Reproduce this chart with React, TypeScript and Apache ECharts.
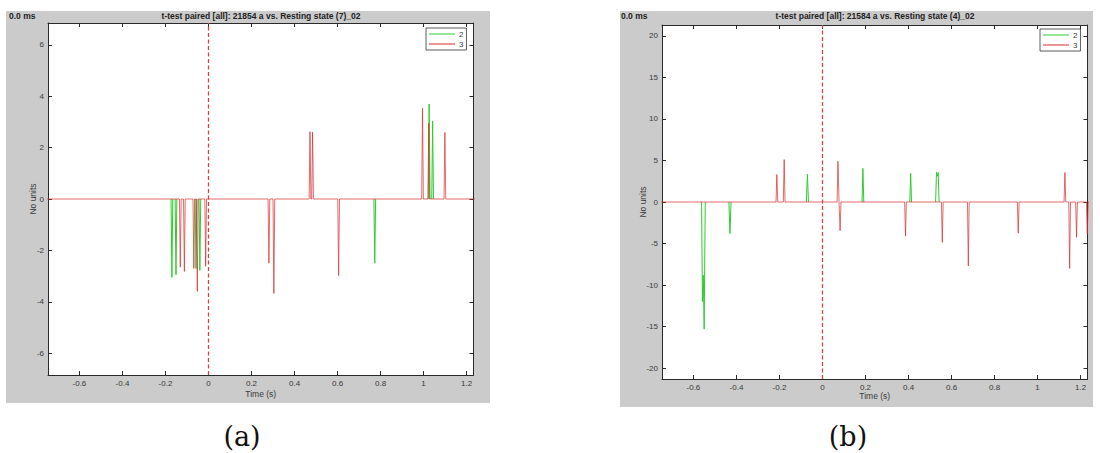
import React, { useEffect, useRef } from "react";
import * as echarts from "echarts";

// ---- axis ranges & ticks ----
const X_MIN = -0.746;
const X_MAX = 1.232;
const xTicks = [-0.6, -0.4, -0.2, 0, 0.2, 0.4, 0.6, 0.8, 1, 1.2];
const Y_LIM_A = 6.85;
const Y_LIM_B = 21.3;
const yTicksA = [-6, -4, -2, 0, 2, 4, 6];
const yTicksB = [-20, -15, -10, -5, 0, 5, 10, 15, 20];

// ---- texts ----
const titleA = "t-test paired [all]: 21854 a vs. Resting state (7)_02";
const titleB = "t-test paired [all]: 21584 a vs. Resting state (4)_02";
const latency = "0.0 ms";
const legendNames = ["2", "3"];

// ---- panel (a): series "2" (green) spikes, [time (s), value]; its zero baseline is hidden under series "3" ----
const greenA: [number, number][][] = [
  [[-0.174, 0], [-0.17, -3.05], [-0.166, 0]],
  [[-0.155, 0], [-0.151, -2.95], [-0.147, 0]],
  [[-0.062, 0], [-0.058, -2.7], [-0.054, 0]],
  [[-0.044, 0], [-0.04, -2.78], [-0.036, 0]],
  [[0.769, 0], [0.773, -2.5], [0.777, 0]],
  [[1.022, 0], [1.026, 3.7], [1.03, 0]],
  [[1.038, 0], [1.042, 3.04], [1.046, 0]],
];
// ---- panel (a): series "3" (red), full trace ----
const redA: [number, number][] = [
  [-0.75, 0], [-0.135, 0], [-0.131, -2.65], [-0.127, 0], [-0.116, 0], [-0.112, -2.82], [-0.108, 0],
  [-0.072, 0], [-0.068, -2.7], [-0.064, 0], [-0.056, 0], [-0.052, -3.6], [-0.048, 0],
  [-0.017, 0], [-0.013, -2.62], [-0.009, 0], [0.277, 0], [0.281, -2.5], [0.285, 0],
  [0.3, 0], [0.304, -3.68], [0.308, 0], [0.468, 0], [0.472, 2.62], [0.476, 0],
  [0.48, 0], [0.484, 2.6], [0.488, 0], [0.601, 0], [0.605, -2.98], [0.609, 0],
  [0.991, 0], [0.995, 3.53], [0.999, 0], [1.02, 0], [1.024, 2.95], [1.028, 0],
  [1.095, 0], [1.099, 2.59], [1.103, 0], [1.24, 0],
];

// ---- panel (b) ----
const greenB: [number, number][][] = [
  [[-0.562, 0], [-0.558, -12.0], [-0.554, -8.8], [-0.55, -15.3], [-0.545, 0]],
  [[-0.435, 0], [-0.43, -3.8], [-0.425, 0]],
  [[-0.075, 0], [-0.07, 3.35], [-0.065, 0]],
  [[0.184, 0], [0.188, 4.05], [0.192, 0]],
  [[0.406, 0], [0.41, 3.45], [0.414, 0]],
  [[0.526, 0], [0.53, 3.6], [0.534, 3.1], [0.538, 3.55], [0.542, 0]],
];
const redB: [number, number][] = [
  [-0.75, 0], [-0.216, 0], [-0.212, 3.3], [-0.208, 0], [-0.182, 0], [-0.178, 5.1], [-0.174, 0],
  [0.068, 0], [0.072, 4.9], [0.077, 0], [0.082, -3.45], [0.086, 0],
  [0.382, 0], [0.386, -4.1], [0.39, 0], [0.553, 0], [0.557, -4.85], [0.561, 0],
  [0.674, 0], [0.678, -7.7], [0.682, 0], [0.906, 0], [0.91, -3.75], [0.914, 0],
  [1.123, 0], [1.127, 3.55], [1.131, 0], [1.145, 0], [1.149, -8.0], [1.153, 0],
  [1.177, 0], [1.181, -4.25], [1.185, 0], [1.227, 0], [1.231, -3.85], [1.235, 0], [1.24, 0],
];

const GREEN = "#2fcb2f";
const RED = "#d92b2b";
const AXIS = "#2a2a2a";
const LABEL = "#3a3a3a";
const GRAY = "#cbcbcb";
const FONT = "'Liberation Sans', Arial, sans-serif";

const joinSegments = (segs: [number, number][][]) => {
  const out: any[] = [];
  segs.forEach((s, i) => {
    if (i > 0) out.push(null);
    s.forEach((p) => out.push(p));
  });
  return out;
};

function App() {
  const ref = useRef<HTMLDivElement>(null);
  useEffect(() => {
    if (!ref.current) return;
    const chart = echarts.init(ref.current, undefined, { renderer: "svg" });

    const axisLine = { show: true, onZero: false, lineStyle: { color: AXIS, width: 1 } };
    const mkX = (grid: number, pos: "bottom" | "top", withName: boolean, nameGap: number) => ({
      type: "value",
      gridIndex: grid,
      position: pos,
      min: X_MIN,
      max: X_MAX,
      name: withName ? "Time (s)" : "",
      nameLocation: "middle",
      nameGap,
      nameMoveOverlap: false,
      nameTextStyle: { fontSize: 8.5, color: LABEL, fontFamily: FONT },
      axisLine,
      axisTick: { show: true, inside: true, length: 4, customValues: xTicks, lineStyle: { color: AXIS } },
      axisLabel: {
        show: pos === "bottom",
        customValues: xTicks,
        fontSize: 8,
        color: LABEL,
        fontFamily: FONT,
        margin: 4,
      },
      splitLine: { show: false },
    });
    const mkY = (grid: number, pos: "left" | "right", lim: number, ticks: number[], nameGap: number) => ({
      type: "value",
      gridIndex: grid,
      position: pos,
      min: -lim,
      max: lim,
      name: pos === "left" ? "No units" : "",
      nameLocation: "middle",
      nameGap,
      nameMoveOverlap: false,
      nameTextStyle: { fontSize: 8.5, color: LABEL, fontFamily: FONT },
      axisLine,
      axisTick: { show: true, inside: true, length: 4, customValues: ticks, lineStyle: { color: AXIS } },
      axisLabel: {
        show: pos === "left",
        customValues: ticks,
        fontSize: 8,
        color: LABEL,
        fontFamily: FONT,
        margin: 4,
      },
      splitLine: { show: false },
    });

    const markLine = {
      silent: true,
      symbol: ["none", "none"],
      label: { show: false },
      lineStyle: { color: "#d24545", width: 1.3, type: [4, 2.5] },
      data: [{ xAxis: 0 }],
    };
    const line = (name: string, color: string, data: any[], xi: number, yi: number, withMark: boolean, width: number) => ({
      type: "line",
      name,
      data,
      xAxisIndex: xi,
      yAxisIndex: yi,
      showSymbol: false,
      symbol: "none",
      connectNulls: false,
      lineStyle: { color, width },
      itemStyle: { color },
      clip: true,
      markLine: withMark ? markLine : undefined,
    });

    const legendCommon = {
      data: legendNames,
      orient: "vertical",
      icon: "rect",
      itemWidth: 26,
      itemHeight: 1,
      itemGap: 2,
      padding: [2, 3, 2, 3],
      backgroundColor: "#fff",
      borderColor: "#333",
      borderWidth: 0.8,
      borderRadius: 0,
      selectedMode: false,
      textStyle: { fontSize: 8, color: LABEL, fontFamily: FONT, padding: [0, 0, 0, -1] },
    };

    chart.setOption({
      animation: false,
      backgroundColor: "#fff",
      color: [GREEN, RED],
      grid: [
        { left: 48, top: 23, width: 425.5, height: 352, containLabel: false },
        { left: 662, top: 25, width: 425.5, height: 354, containLabel: false },
      ],
      xAxis: [
        mkX(0, "bottom", true, 14),
        mkX(0, "top", false, 0),
        mkX(1, "bottom", true, 12),
        mkX(1, "top", false, 0),
      ],
      yAxis: [
        mkY(0, "left", Y_LIM_A, yTicksA, 11),
        mkY(0, "right", Y_LIM_A, yTicksA, 0),
        mkY(1, "left", Y_LIM_B, yTicksB, 15),
        mkY(1, "right", Y_LIM_B, yTicksB, 0),
      ],
      legend: [
        { ...legendCommon, left: 426, top: 28 },
        { ...legendCommon, left: 1040, top: 29 },
      ],
      series: [
        line("2", GREEN, joinSegments(greenA), 0, 0, false, 1),
        line("3", RED, redA, 0, 0, true, 0.7),
        line("2", GREEN, joinSegments(greenB), 2, 2, false, 1),
        line("3", RED, redB, 2, 2, true, 0.7),
      ],
      graphic: [
        { type: "rect", z: -10, shape: { x: 6, y: 11, width: 484, height: 392 }, style: { fill: GRAY } },
        { type: "rect", z: -9, shape: { x: 48, y: 23, width: 425.5, height: 352 }, style: { fill: "#fff" } },
        { type: "rect", z: -10, shape: { x: 620, y: 11, width: 473, height: 396 }, style: { fill: GRAY } },
        { type: "rect", z: -9, shape: { x: 662, y: 25, width: 425.5, height: 354 }, style: { fill: "#fff" } },
        {
          type: "text", x: 261, y: 16,
          style: { text: titleA, font: `bold 8.5px ${FONT}`, fill: "#222", textAlign: "center", textVerticalAlign: "middle" },
        },
        {
          type: "text", x: 875, y: 16,
          style: { text: titleB, font: `bold 8.5px ${FONT}`, fill: "#222", textAlign: "center", textVerticalAlign: "middle" },
        },
        {
          type: "text", x: 9, y: 16,
          style: { text: latency, font: `bold 8.5px ${FONT}`, fill: "#222", textAlign: "left", textVerticalAlign: "middle" },
        },
        {
          type: "text", x: 621, y: 16,
          style: { text: latency, font: `bold 8.5px ${FONT}`, fill: "#222", textAlign: "left", textVerticalAlign: "middle" },
        },
        {
          type: "text", x: 242, y: 436,
          style: { text: "(a)", font: `27px 'DejaVu Serif', serif`, fill: "#111", textAlign: "center", textVerticalAlign: "middle" },
        },
        {
          type: "text", x: 848, y: 436,
          style: { text: "(b)", font: `27px 'DejaVu Serif', serif`, fill: "#111", textAlign: "center", textVerticalAlign: "middle" },
        },
      ],
    });
    return () => chart.dispose();
  }, []);
  return <div ref={ref} style={{ position: "absolute", left: 0, top: 0, width: 1100, height: 453 }} />;
}

export default App;
